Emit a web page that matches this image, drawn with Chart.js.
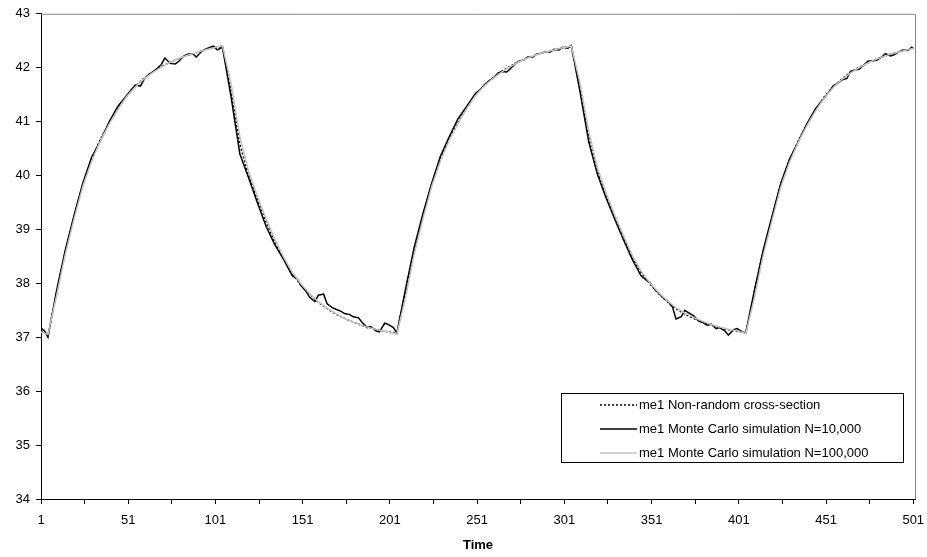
<!DOCTYPE html>
<html>
<head>
<meta charset="utf-8">
<script src="https://cdn.jsdelivr.net/npm/chart.js@4"></script>
<style>
  html, body { margin: 0; padding: 0; background: #fff; }
</style>
</head>
<body>
<canvas id="chart" width="927" height="557"></canvas>
<script>
// time steps (every 5 steps)
const time = [1, 5, 10, 15, 20, 25, 30, 35, 40, 45, 50, 55, 60, 65, 70, 75, 80, 85, 90, 95,
  100, 105, 110, 115, 120, 125, 130, 135, 140, 145, 150, 155, 160, 165, 170, 175, 180, 185, 190, 195,
  200, 205, 210, 215, 220, 225, 230, 235, 240, 245, 250, 255, 260, 265, 270, 275, 280, 285, 290, 295,
  300, 305, 310, 315, 320, 325, 330, 335, 340, 345, 350, 355, 360, 365, 370, 375, 380, 385, 390, 395,
  400, 405, 410, 415, 420, 425, 430, 435, 440, 445, 450, 455, 460, 465, 470, 475, 480, 485, 490, 495,
  500, 501];

const nonRandom = [37.12, 37.05,
  37.84, 38.60, 39.24, 39.84, 40.30, 40.67, 40.96, 41.24, 41.47, 41.65,
  41.80, 41.92, 42.02, 42.10, 42.17, 42.23, 42.28, 42.33, 42.37, 42.40,
  41.55, 40.58, 40.00, 39.56, 39.14, 38.77, 38.45, 38.18, 37.97, 37.80,
  37.65, 37.53, 37.43, 37.35, 37.28, 37.22, 37.17, 37.13, 37.10, 37.07,
  37.86, 38.62, 39.26, 39.85, 40.31, 40.68, 40.98, 41.26, 41.49, 41.67,
  41.81, 41.93, 42.03, 42.11, 42.18, 42.24, 42.29, 42.33, 42.37, 42.40,
  41.60, 40.70, 40.08, 39.62, 39.22, 38.84, 38.48, 38.20, 37.99, 37.81,
  37.66, 37.53, 37.43, 37.35, 37.29, 37.23, 37.18, 37.14, 37.11, 37.08,
  37.85, 38.60, 39.22, 39.84, 40.28, 40.64, 40.94, 41.22, 41.46, 41.64,
  41.79, 41.91, 42.01, 42.09, 42.16, 42.22, 42.27, 42.31, 42.35, 42.36];

const mc100k = [37.10, 37.05,
  37.78, 38.55, 39.20, 39.80, 40.26, 40.64, 40.95, 41.22, 41.46, 41.64,
  41.79, 41.91, 42.01, 42.10, 42.17, 42.23, 42.28, 42.33, 42.37, 42.41,
  41.70, 40.72, 40.08, 39.62, 39.20, 38.82, 38.49, 38.21, 37.99, 37.81,
  37.66, 37.54, 37.44, 37.35, 37.28, 37.22, 37.17, 37.13, 37.10, 37.06,
  37.74, 38.55, 39.20, 39.80, 40.27, 40.65, 40.96, 41.24, 41.48, 41.66,
  41.80, 41.92, 42.02, 42.11, 42.18, 42.24, 42.29, 42.33, 42.37, 42.40,
  41.72, 40.82, 40.14, 39.67, 39.26, 38.88, 38.52, 38.23, 38.01, 37.83,
  37.68, 37.55, 37.45, 37.37, 37.30, 37.24, 37.19, 37.15, 37.12, 37.07,
  37.74, 38.52, 39.16, 39.78, 40.24, 40.61, 40.92, 41.20, 41.44, 41.63,
  41.78, 41.90, 42.00, 42.09, 42.16, 42.22, 42.27, 42.31, 42.35, 42.36];

// N=10,000 run is noisier, so it is read at more time steps on the flat parts
const timeMc = [1, 3, 5, 10, 15, 20, 25, 30,
  33, 35, 40, 45, 50, 53, 55, 58, 60, 63, 65, 68, 70, 72, 75, 78, 80, 83, 85, 88, 90, 93, 95, 98, 100, 102, 105,
  110, 115, 120, 125, 130, 135, 140, 145,
  148, 150, 153, 155, 158, 160, 163, 165, 168, 170, 173, 175, 178, 180, 183, 185, 188, 190, 193, 195, 198, 200, 203, 205,
  210, 215, 220, 225, 230, 235, 240, 245, 250,
  253, 255, 258, 260, 263, 265, 268, 270, 273, 275, 278, 280, 283, 285, 288, 290, 293, 295, 298, 300, 303, 305,
  310, 315, 320, 325, 330, 335, 340, 345,
  348, 350, 353, 355, 358, 360, 363, 365, 368, 370, 373, 375, 378, 380, 383, 385, 388, 390, 393, 395, 398, 400, 403, 405,
  410, 415, 420, 425, 430, 435, 440, 445, 450,
  453, 455, 458, 460, 463, 465, 468, 470, 473, 475, 478, 480, 483, 485, 488, 490, 493, 495, 498, 500, 501];

const mc10k = [37.17, 37.12, 37.00, 37.88, 38.63, 39.27, 39.86, 40.34,
  40.52, 40.64, 40.99, 41.28, 41.48, 41.60, 41.68, 41.66, 41.78, 41.88, 41.92, 42.00, 42.06, 42.18, 42.08, 42.07, 42.12, 42.22, 42.25, 42.26, 42.20, 42.30, 42.34, 42.38, 42.40, 42.33, 42.38,
  41.45, 40.40, 39.96, 39.50, 39.06, 38.72, 38.45, 38.14,
  38.08, 37.96, 37.85, 37.74, 37.66, 37.78, 37.80, 37.62, 37.55, 37.52, 37.48, 37.44, 37.42, 37.38, 37.36, 37.28, 37.18, 37.20, 37.12, 37.10, 37.26, 37.24, 37.18, 37.08,
  37.90, 38.68, 39.30, 39.86, 40.36, 40.72, 41.05, 41.28, 41.52,
  41.60, 41.68, 41.76, 41.80, 41.90, 41.93, 41.92, 41.98, 42.08, 42.12, 42.15, 42.20, 42.20, 42.25, 42.27, 42.30, 42.29, 42.34, 42.33, 42.38, 42.36, 42.41,
  41.55, 40.62, 40.02, 39.58, 39.18, 38.80, 38.44, 38.14,
  38.06, 38.02, 37.88, 37.82, 37.72, 37.68, 37.56, 37.34, 37.38, 37.50, 37.44, 37.40, 37.30, 37.28, 37.22, 37.25, 37.16, 37.18, 37.12, 37.04, 37.14, 37.16, 37.10, 37.08,
  37.88, 38.62, 39.24, 39.85, 40.30, 40.62, 40.96, 41.24, 41.44,
  41.56, 41.66, 41.72, 41.77, 41.80, 41.93, 41.96, 41.97, 42.06, 42.12, 42.13, 42.14, 42.20, 42.26, 42.22, 42.24, 42.30, 42.33, 42.32, 42.38, 42.37];

const xTicks = [1, 26, 51, 76, 101, 126, 151, 176, 201, 226, 251, 276, 301, 326, 351, 376, 401, 426, 451, 476, 501];
const seriesLabels = [
  "me1 Non-random cross-section",
  "me1 Monte Carlo simulation N=10,000",
  "me1 Monte Carlo simulation N=100,000"
];

const FONT = "'Liberation Sans', Arial, sans-serif";

function points(xs, values) {
  return xs.map((t, i) => ({ x: t, y: values[i] }));
}

// gray frame on top/right + boxed legend inside the plot
const framePlugin = {
  id: "frame",
  beforeDatasetsDraw(chart) {
    const { ctx, chartArea: a } = chart;
    ctx.save();
    ctx.strokeStyle = "#888";
    ctx.lineWidth = 1;
    ctx.beginPath();
    ctx.moveTo(a.left, a.top + 0.5);
    ctx.lineTo(a.right + 0.5, a.top + 0.5);
    ctx.lineTo(a.right + 0.5, a.bottom);
    ctx.stroke();
    ctx.restore();
  },
  afterDraw(chart) {
    const ctx = chart.ctx;
    const box = { x: 561.5, y: 393.5, w: 342, h: 69 };
    ctx.save();
    ctx.fillStyle = "#fff";
    ctx.fillRect(box.x, box.y, box.w, box.h);
    ctx.strokeStyle = "#000";
    ctx.lineWidth = 1;
    ctx.strokeRect(box.x, box.y, box.w, box.h);
    ctx.font = "13px " + FONT;
    ctx.textBaseline = "middle";
    ctx.fillStyle = "#000";
    chart.data.datasets.forEach((ds, i) => {
      const y = 405 + i * 24;
      ctx.save();
      ctx.strokeStyle = ds.borderColor;
      ctx.lineWidth = ds.borderWidth;
      ctx.setLineDash(ds.borderDash || []);
      ctx.beginPath();
      ctx.moveTo(600, y);
      ctx.lineTo(637, y);
      ctx.stroke();
      ctx.restore();
      ctx.fillText(ds.label, 639, y);
    });
    ctx.restore();
  }
};

new Chart(document.getElementById("chart"), {
  type: "line",
  data: {
    datasets: [
      {
        label: seriesLabels[0],
        data: points(time, nonRandom),
        borderColor: "#000",
        borderWidth: 1.5,
        borderDash: [2, 2],
        pointRadius: 0,
        order: 2
      },
      {
        label: seriesLabels[1],
        data: points(timeMc, mc10k),
        borderColor: "#000",
        borderWidth: 1.5,
        pointRadius: 0,
        order: 1
      },
      {
        label: seriesLabels[2],
        data: points(time, mc100k),
        borderColor: "#c4c4c4",
        borderWidth: 1.5,
        pointRadius: 0,
        order: 0
      }
    ]
  },
  options: {
    responsive: false,
    animation: false,
    devicePixelRatio: 1,
    layout: { padding: { left: 0, top: 10, right: 12, bottom: 0 } },
    plugins: {
      legend: { display: false },
      tooltip: { enabled: false }
    },
    scales: {
      x: {
        type: "linear",
        min: 1,
        max: 502,
        afterBuildTicks: s => { s.ticks = xTicks.map(v => ({ value: v })); },
        afterFit: s => {
          s.height = 58;
          // let the plot run out to the right border like the original
          s.paddingLeft = 0;
          s.paddingRight = 0;
        },
        ticks: {
          autoSkip: false,
          maxRotation: 0,
          padding: 9,
          color: "#000",
          font: { family: FONT, size: 13 },
          callback: v => ((v - 1) % 50 === 0 ? String(v) : "")
        },
        grid: { drawOnChartArea: false, drawTicks: true, tickLength: 5, color: "#000" },
        border: { color: "#000", width: 1 },
        title: {
          display: true,
          text: "Time",
          color: "#000",
          font: { family: FONT, size: 13, weight: "bold" },
          padding: { top: 0, bottom: 4 }
        }
      },
      y: {
        min: 34,
        max: 43,
        afterFit: s => { s.width = 41; },
        ticks: {
          stepSize: 1,
          padding: 6,
          color: "#000",
          font: { family: FONT, size: 13 }
        },
        grid: { drawOnChartArea: false, drawTicks: true, tickLength: 5, color: "#000" },
        border: { color: "#000", width: 1 }
      }
    }
  },
  plugins: [framePlugin]
});
</script>
</body>
</html>
